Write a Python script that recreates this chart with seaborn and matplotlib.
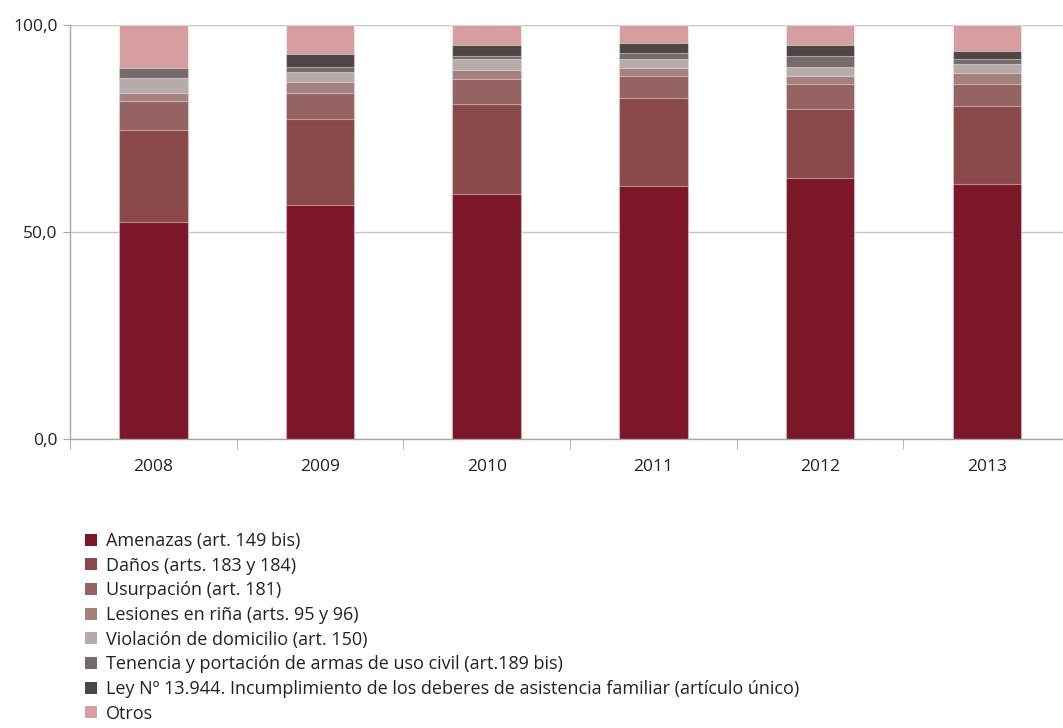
import matplotlib
matplotlib.use("Agg")
import matplotlib.pyplot as plt
from matplotlib.patches import Patch
from matplotlib.ticker import FixedLocator
import seaborn as sns
import numpy as np
import pandas as pd

years = ["2008", "2009", "2010", "2011", "2012", "2013"]
categories = [
    "Amenazas (art. 149 bis)",
    "Daños (arts. 183 y 184)",
    "Usurpación (art. 181)",
    "Lesiones en riña (arts. 95 y 96)",
    "Violación de domicilio (art. 150)",
    "Tenencia y portación de armas de uso civil (art.189 bis)",
    "Ley Nº 13.944. Incumplimiento de los deberes de asistencia familiar (artículo único)",
    "Otros",
]
amenazas   = [52.5, 56.5, 59.2, 61.1, 63.2, 61.7]
danos      = [22.1, 20.8, 21.9, 21.4, 16.7, 18.8]
usurpacion = [7.2, 6.3, 6.0, 5.3, 6.0, 5.4]
lesiones   = [1.9, 2.8, 2.0, 1.9, 1.9, 2.6]
violacion  = [3.6, 2.2, 2.8, 2.2, 2.1, 2.1]
tenencia   = [2.5, 1.3, 0.7, 1.3, 2.6, 1.2]
ley        = [0.0, 3.2, 2.6, 2.6, 2.7, 2.1]
otros      = [10.2, 6.9, 4.8, 4.2, 4.8, 6.1]
series = [amenazas, danos, usurpacion, lesiones, violacion, tenencia, ley, otros]
colors = ["#7b1729", "#8a4949", "#956361", "#a6807d", "#b5abab", "#766a6a", "#4e4545", "#d69e9e"]

sns.set_style("white")
plt.rcParams["font.family"] = ["Open Sans", "DejaVu Sans"]

fig = plt.figure(figsize=(10.63, 7.28), dpi=100)
ax = fig.add_axes([70 / 1063, 288.7 / 728, 1000 / 1063, 414 / 728])

cum = np.cumsum(np.array(series), axis=0)
# draw tallest cumulative first so lower segments overlay
for i in range(len(series) - 1, -1, -1):
    df = pd.DataFrame({"year": years, "value": cum[i]})
    sns.barplot(data=df, x="year", y="value", color=colors[i], width=0.41,
                saturation=1, edgecolor=(1, 1, 1, 0.45), linewidth=0.8, ax=ax)

ax.set_xlim(-0.5, 5.5)
ax.set_ylim(0, 100)
ax.set_xlabel("")
ax.set_ylabel("")
ax.set_yticks([0, 50, 100])
ax.set_yticklabels(["0,0", "50,0", "100,0"])
ax.yaxis.grid(True, color="#c4c4c4", linewidth=1.0)
ax.set_axisbelow(True)
for s in ["top", "right"]:
    ax.spines[s].set_visible(False)
for s in ["left", "bottom"]:
    ax.spines[s].set_color("#a6a6a6")
    ax.spines[s].set_linewidth(1.0)
ax.tick_params(axis="y", length=5, color="#a6a6a6", labelsize=12.5, labelcolor="#222222", pad=4, left=True)
ax.tick_params(axis="x", which="major", length=0, labelsize=12.5, labelcolor="#222222", pad=14)
ax.xaxis.set_minor_locator(FixedLocator(np.arange(-0.5, 6.0, 1.0)))
ax.tick_params(axis="x", which="minor", length=7, color="#a6a6a6", bottom=True)

handles = [Patch(facecolor=c, edgecolor="none") for c in colors]
fig.legend(handles, categories, loc="upper left", bbox_to_anchor=(85 / 1063, 1 - 532 / 728),
           frameon=False, fontsize=13, handlelength=0.65, handleheight=0.65,
           handletextpad=0.5, labelspacing=0.37, borderaxespad=0, borderpad=0,
           labelcolor="#222222")

fig.savefig("out.png", dpi=100)
